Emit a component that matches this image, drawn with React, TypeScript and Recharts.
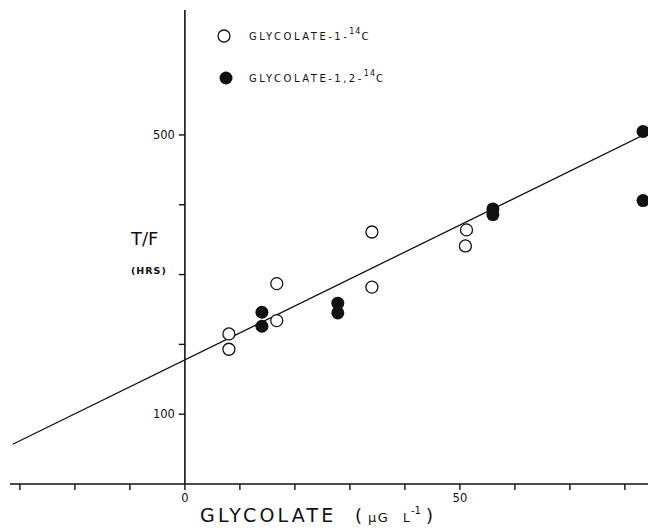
import { ReferenceLine, Scatter, ScatterChart, XAxis, YAxis } from "recharts";

// glycolate-1-14C (open circles)
const openX = [8, 8, 16.7, 16.7, 34, 34, 51.2, 51];
const openY = [215, 193, 287, 234, 361, 282, 364, 341];
// glycolate-1,2-14C (filled circles)
const filledX = [14, 14, 27.8, 27.8, 56, 56, 83.3, 83.3];
const filledY = [246, 226, 259, 245, 394, 386, 505, 406];
// regression line end points
const fitX = [-31.3, 84.2];
const fitY = [57, 503];

const xTicks = [-30, -20, -10, 0, 10, 20, 30, 40, 50, 60, 70, 80];
const xTickLabels = [0, 50];
const yTicks = [100, 200, 300, 400, 500];
const yTickLabels = [100, 500];

const INK = "#111";
const FONT = "'DejaVu Sans', sans-serif";

const zip = (xs: number[], ys: number[]) => xs.map((x, i) => ({ x, y: ys[i] }));
const openData = zip(openX, openY);
const filledData = zip(filledX, filledY);
const fitData = zip(fitX, fitY);

const OpenDot = (p: any) => (
  <circle cx={p.cx} cy={p.cy} r={6} fill="#fff" stroke={INK} strokeWidth={1.3} />
);
const FilledDot = (p: any) => <circle cx={p.cx} cy={p.cy} r={6.5} fill={INK} />;

function Annotations() {
  return (
    <svg
      width={648}
      height={528}
      style={{ position: "absolute", left: 0, top: 0, pointerEvents: "none" }}
      fontFamily={FONT}
      fill={INK}
    >
      {/* legend */}
      <circle cx={224} cy={36} r={6} fill="#fff" stroke={INK} strokeWidth={1.3} />
      <text x={249} y={40} fontSize={10} letterSpacing={2.5}>
        GLYCOLATE-1-
        <tspan fontSize={8} dy={-6} letterSpacing={1}>14</tspan>
        <tspan fontSize={10} dy={6}>C</tspan>
      </text>
      <circle cx={226} cy={78} r={6.5} fill={INK} />
      <text x={249} y={82} fontSize={10} letterSpacing={2.5}>
        GLYCOLATE-1,2-
        <tspan fontSize={8} dy={-6} letterSpacing={1}>14</tspan>
        <tspan fontSize={10} dy={6}>C</tspan>
      </text>

      {/* y title */}
      <text x={131} y={245} fontSize={18}>T/F</text>
      <text x={131} y={274} fontSize={9.5} fontWeight="bold" letterSpacing={1}>(HRS)</text>

      {/* x title */}
      <text x={200} y={522} fontSize={19} letterSpacing={3.2}>GLYCOLATE</text>
      <text x={355} y={522} fontSize={18}>(</text>
      <text x={368} y={522} fontSize={13} letterSpacing={1.5}>μG</text>
      <text x={403} y={522} fontSize={12}>L</text>
      <text x={411} y={514} fontSize={10}>-1</text>
      <text x={426} y={522} fontSize={18}>)</text>
    </svg>
  );
}

export default function App() {
  return (
    <div style={{ position: "absolute", left: 0, top: 0, width: 648, height: 528, overflow: "hidden", background: "#fff" }}>
      <ScatterChart
        width={648}
        height={528}
        margin={{ top: 10, right: 0, left: 10, bottom: 14 }}
      >
        <XAxis
          type="number"
          dataKey="x"
          domain={[-31.8, 84.2]}
          ticks={xTicks}
          tickFormatter={(v: number) => (xTickLabels.includes(v) ? String(v) : "")}
          allowDataOverflow
          height={30}
          tickSize={6}
          tickMargin={4}
          axisLine={{ stroke: INK, strokeWidth: 1.6 }}
          tickLine={{ stroke: INK, strokeWidth: 1.4 }}
          tick={{ fill: INK, fontSize: 11.5, fontFamily: FONT }}
        />
        <YAxis type="number" dataKey="y" domain={[0, 679]} allowDataOverflow hide />

        <ReferenceLine x={0} stroke={INK} strokeWidth={1.6} />
        {yTicks.map((v) => (
          <ReferenceLine
            key={v}
            segment={[{ x: -1.1, y: v }, { x: 0, y: v }]}
            stroke={INK}
            strokeWidth={1.4}
            label={
              yTickLabels.includes(v)
                ? { value: String(v), position: "left", offset: 4, fill: INK, fontSize: 11.5, fontFamily: FONT }
                : undefined
            }
          />
        ))}

        <Scatter
          data={fitData}
          line={{ stroke: INK, strokeWidth: 1.3 }}
          shape={() => <g />}
          legendType="none"
          isAnimationActive={false}
        />
        <Scatter data={openData} shape={OpenDot} isAnimationActive={false} />
        <Scatter data={filledData} shape={FilledDot} isAnimationActive={false} />
      </ScatterChart>
      <Annotations />
    </div>
  );
}
